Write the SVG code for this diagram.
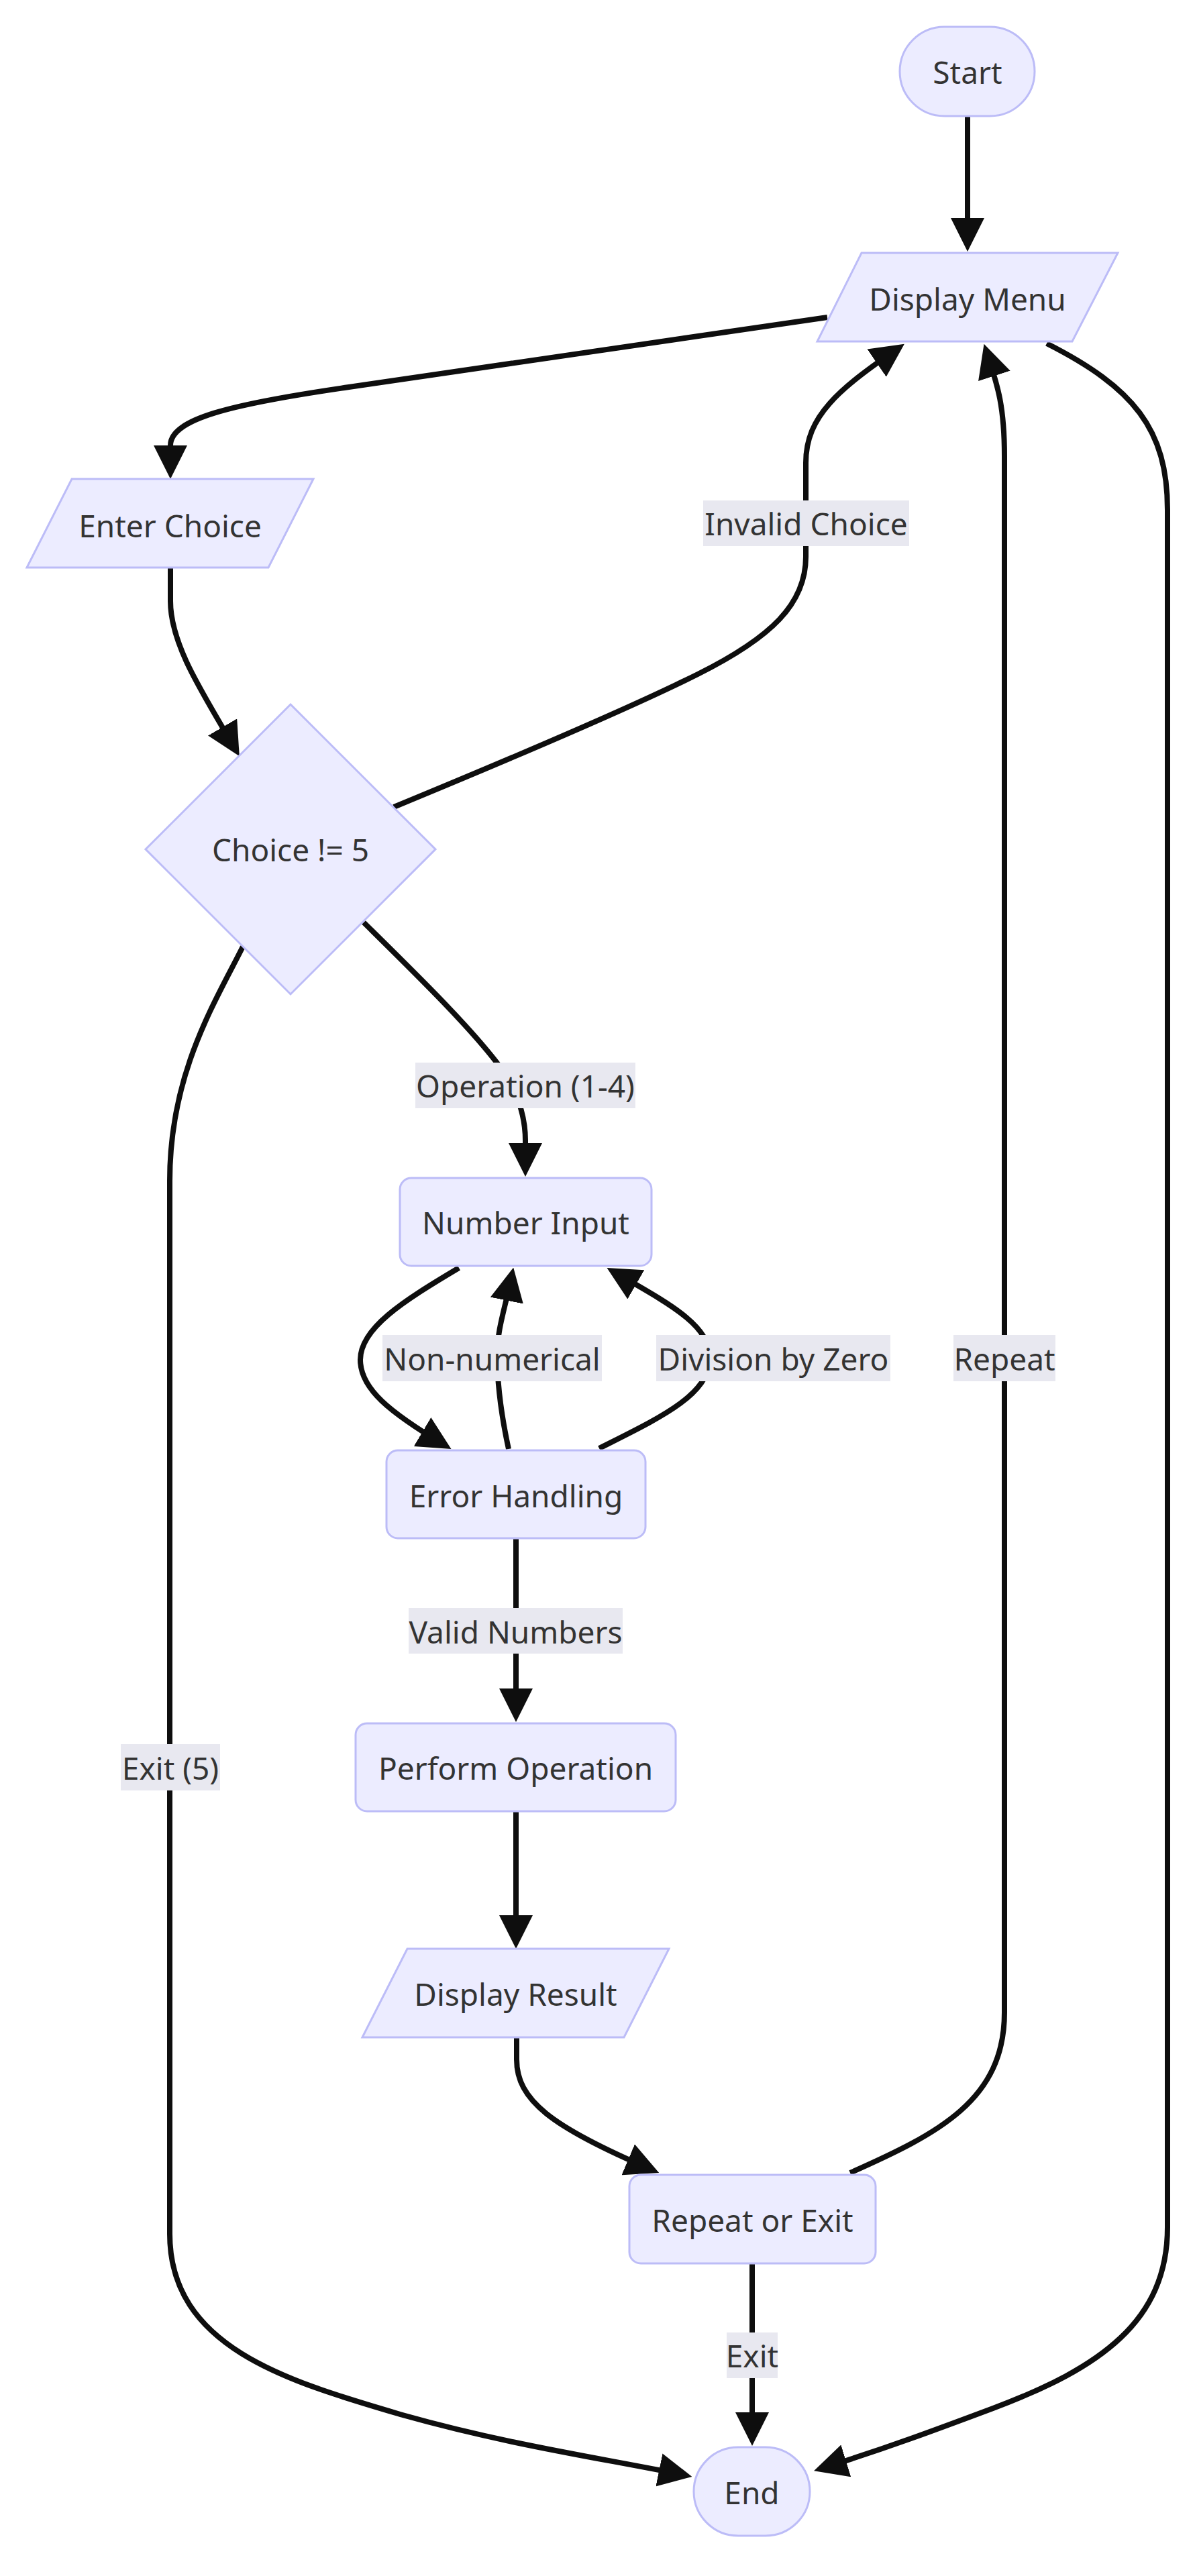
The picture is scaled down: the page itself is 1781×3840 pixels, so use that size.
<svg xmlns="http://www.w3.org/2000/svg" width="1781" height="3840" viewBox="0 0 1781 3840">
<style>
.node{fill:#ECECFF;stroke:#BCBCF7;stroke-width:3}
.edge{fill:none;stroke:#0e0e0e;stroke-width:8}
.lbl{fill:#E8E8F0}
text{font-family:"Noto Sans","Open Sans","DejaVu Sans",sans-serif;font-size:46px;fill:#333333;text-anchor:middle}
</style>
<defs>
<marker id="arrow" viewBox="0 0 10 10" refX="8" refY="5" markerUnits="userSpaceOnUse" markerWidth="50" markerHeight="50" orient="auto">
<path d="M0,0 L10,5 L0,10 z" fill="#0e0e0e"/>
</marker>
</defs>
<rect width="1781" height="3840" fill="#ffffff"/>
<g id="edges">
<path class="edge" marker-end="url(#arrow)" d="M1442,173 L1442,365"/>
<path class="edge" marker-end="url(#arrow)" d="M1233,473 L520,577 C340,603 254,625 254,664 L254,704"/>
<path class="edge" marker-end="url(#arrow)" d="M254,847 L254,896 C254,960 300,1030 351.8,1118.5"/>
<path class="edge" marker-end="url(#arrow)" d="M587,1203 C800,1115 950,1050 1040,1005 C1150,950 1201,900 1201,830 L1201,690 C1201,620 1250,580 1339.6,518.5"/>
<path class="edge" marker-end="url(#arrow)" d="M542,1375 C620,1452 700,1530 745,1590 C770,1625 783,1660 783,1700 L783,1744"/>
<path class="edge" marker-end="url(#arrow)" d="M1560,512 C1690,578 1740,640 1740,760 L1740,3320 C1740,3460 1640,3530 1480,3590 C1400,3620 1320,3650 1222.6,3680.2"/>
<path class="edge" marker-end="url(#arrow)" d="M1267,3239 C1400,3180 1497,3130 1497,3000 L1497,680 C1497,600 1485,570 1469.6,522.3"/>
<path class="edge" marker-end="url(#arrow)" d="M362,1411 C320,1495 253,1600 253,1760 L253,3330 C253,3500 430,3550 600,3600 C760,3645 900,3665 1021.6,3689.9"/>
<path class="edge" marker-end="url(#arrow)" d="M684,1890 C600,1940 537,1980 537,2027 C537,2070 580,2105 663.9,2155"/>
<path class="edge" marker-end="url(#arrow)" d="M758,2160 C745,2100 741,2060 741,2020 C741,1980 753,1950 763.2,1899.4"/>
<path class="edge" marker-end="url(#arrow)" d="M893,2159 C980,2115 1058,2080 1058,2025 C1058,1975 1000,1945 913.2,1894.9"/>
<path class="edge" marker-end="url(#arrow)" d="M769,2294 L769,2557"/>
<path class="edge" marker-end="url(#arrow)" d="M769,2700 L769,2895"/>
<path class="edge" marker-end="url(#arrow)" d="M770,3037 L770,3070 C770,3130 820,3170 973,3235"/>
<path class="edge" marker-end="url(#arrow)" d="M1121,3374 L1121,3636"/>
</g>
<g id="edge-labels">
<g id="label-invalid"><rect class="lbl" x="1048" y="746" width="307" height="68"/><text x="1201.5" y="798">Invalid Choice</text></g>
<g id="label-operation"><rect class="lbl" x="619" y="1584" width="328" height="68"/><text x="783" y="1636">Operation (1-4)</text></g>
<g id="label-nonnum"><rect class="lbl" x="570" y="1990" width="327" height="69"/><text x="733.5" y="2043">Non-numerical</text></g>
<g id="label-divzero"><rect class="lbl" x="978" y="1990" width="349" height="69"/><text x="1152.5" y="2043">Division by Zero</text></g>
<g id="label-repeat"><rect class="lbl" x="1421" y="1990" width="152" height="69"/><text x="1497" y="2043">Repeat</text></g>
<g id="label-valid"><rect class="lbl" x="609" y="2397" width="319" height="68"/><text x="768.5" y="2450">Valid Numbers</text></g>
<g id="label-exit5"><rect class="lbl" x="180" y="2600" width="148" height="69"/><text x="254" y="2653">Exit (5)</text></g>
<g id="label-exit"><rect class="lbl" x="1083" y="3477" width="76" height="68"/><text x="1121" y="3529">Exit</text></g>
</g>
<g id="nodes">
<g id="node-start"><rect class="node" x="1341" y="40" width="201" height="133" rx="66.5" ry="66.5"/><text x="1442" y="125">Start</text></g>
<g id="node-display-menu"><polygon class="node" points="1284,377 1666,377 1598,509 1218,509"/><text x="1442" y="463">Display Menu</text></g>
<g id="node-enter-choice"><polygon class="node" points="107,714 467,714 400,846 40,846"/><text x="253.5" y="801">Enter Choice</text></g>
<g id="node-choice"><polygon class="node" points="433,1050 649,1266 433,1482 217,1266"/><text x="433" y="1284">Choice != 5</text></g>
<g id="node-number-input"><rect class="node" x="596" y="1756" width="375" height="131" rx="17" ry="17"/><text x="783.5" y="1840">Number Input</text></g>
<g id="node-error"><rect class="node" x="576" y="2162" width="386" height="131" rx="17" ry="17"/><text x="769" y="2247">Error Handling</text></g>
<g id="node-perform"><rect class="node" x="530" y="2569" width="477" height="131" rx="17" ry="17"/><text x="768.5" y="2653">Perform Operation</text></g>
<g id="node-display-result"><polygon class="node" points="607,2905 997,2905 930,3037 540,3037"/><text x="768.5" y="2990">Display Result</text></g>
<g id="node-repeat-exit"><rect class="node" x="938" y="3242" width="367" height="132" rx="17" ry="17"/><text x="1121.5" y="3327">Repeat or Exit</text></g>
<g id="node-end"><rect class="node" x="1034" y="3648" width="173" height="132" rx="66" ry="66"/><text x="1120.5" y="3733">End</text></g>
</g>
</svg>
